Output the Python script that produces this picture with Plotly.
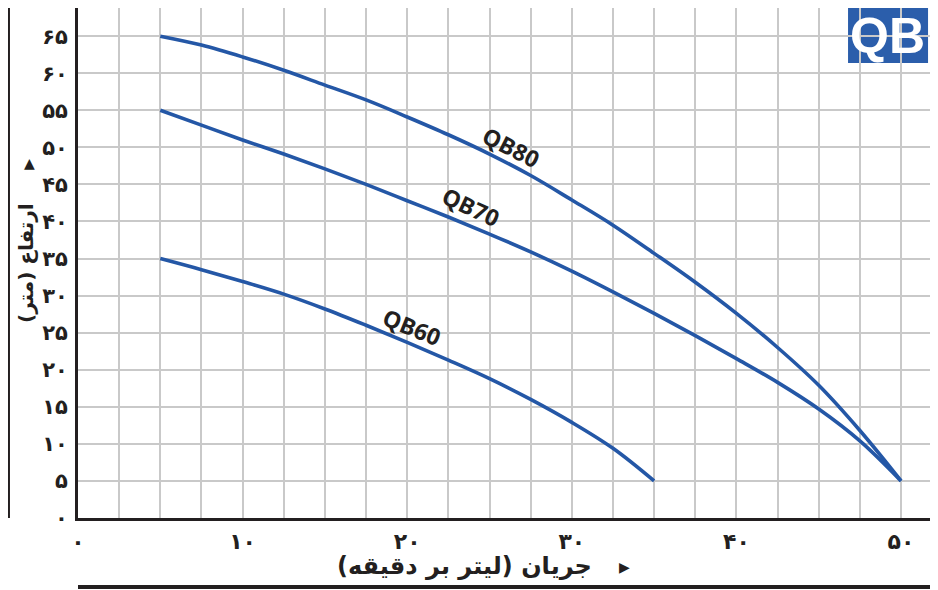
import plotly.graph_objects as go

# flow (litres per minute) sampled every 2.5
flow_80 = [5, 7.5, 10, 12.5, 15, 17.5, 20, 22.5, 25, 27.5, 30, 32.5, 35, 37.5, 40, 42.5, 45, 47.5, 50]
head_80 = [65, 63.8, 62.2, 60.4, 58.4, 56.4, 54.1, 51.7, 49.1, 46.2, 42.9, 39.5, 35.7, 31.8, 27.6, 23.0, 17.9, 11.8, 5]

flow_70 = [5, 7.5, 10, 12.5, 15, 17.5, 20, 22.5, 25, 27.5, 30, 32.5, 35, 37.5, 40, 42.5, 45, 47.5, 50]
head_70 = [55, 53.0, 51.0, 49.1, 47.1, 45.0, 42.8, 40.6, 38.3, 35.9, 33.3, 30.5, 27.6, 24.6, 21.5, 18.3, 14.7, 10.4, 5]

flow_60 = [5, 7.5, 10, 12.5, 15, 17.5, 20, 22.5, 25, 27.5, 30, 32.5, 35]
head_60 = [35, 33.5, 31.9, 30.2, 28.2, 26.0, 23.7, 21.3, 18.8, 16.0, 12.9, 9.4, 5]

series = [("QB80", flow_80, head_80), ("QB70", flow_70, head_70), ("QB60", flow_60, head_60)]

# curve name labels: (x, y, angle)
label_pos = {"QB80": (26.3, 50.0, 27), "QB70": (23.9, 42.0, 25), "QB60": (20.3, 25.8, 22)}

fa_digits = str.maketrans("0123456789", "۰۱۲۳۴۵۶۷۸۹")

x_vals = [i * 2.5 for i in range(21)]
x_text = [str(int(v)).translate(fa_digits) if v % 10 == 0 else "" for v in x_vals]
y_vals = list(range(0, 70, 5))
y_text = [str(v).translate(fa_digits) for v in y_vals]

BLUE = "#2457a6"
INK = "#231f20"
FONT = "DejaVu Sans, sans-serif"

fig = go.Figure()
for name, xs, ys in series:
    fig.add_trace(go.Scatter(x=xs, y=ys, mode="lines", name=name,
                             line=dict(color=BLUE, width=3.6, shape="spline", smoothing=1.0)))
    lx, ly, ang = label_pos[name]
    fig.add_annotation(x=lx, y=ly, text="<b>%s</b>" % name, showarrow=False, textangle=ang,
                       font=dict(family="Open Sans, sans-serif", size=23, color=INK))

fig.update_xaxes(range=[0, 51.76], tickvals=x_vals, ticktext=x_text, showgrid=True, automargin=False,
                 gridcolor="#c9c9c9", gridwidth=1.5, showline=True, linecolor=INK, linewidth=3,
                 mirror=True, zeroline=False, ticks="", ticklabelstandoff=2,
                 tickfont=dict(family=FONT, size=22, color=INK, weight="bold"))
fig.update_yaxes(range=[0, 68.8], tickvals=y_vals, ticktext=y_text, showgrid=True, automargin=False,
                 gridcolor="#c9c9c9", gridwidth=1.5, showline=True, linecolor=INK, linewidth=3,
                 mirror=True, zeroline=False, ticks="", ticklabelstandoff=3,
                 tickfont=dict(family=FONT, size=21, color=INK, weight="bold"))

# axis titles with arrows
fig.add_annotation(xref="paper", yref="paper", x=-0.0775, y=0.50, xanchor="left",
                   text="<b>ارتفاع (متر)</b>", textangle=-90, showarrow=False,
                   font=dict(family=FONT, size=20, color=INK))
fig.add_annotation(xref="paper", yref="paper", x=-0.066, y=0.715, text="▲", showarrow=False,
                   font=dict(family=FONT, size=14, color=INK))
fig.add_annotation(xref="paper", yref="paper", x=0.454, y=-0.126, text="<b>جریان (لیتر بر دقیقه)</b>",
                   showarrow=False, font=dict(family=FONT, size=24, color=INK))
fig.add_annotation(xref="paper", yref="paper", x=0.642, y=-0.116, text="▶", showarrow=False,
                   font=dict(family=FONT, size=14, color=INK))

# frame bars outside the plot
fig.add_shape(type="line", xref="paper", yref="paper", x0=-0.0822, x1=-0.0822, y0=0, y1=1.0,
              line=dict(color=INK, width=4))
fig.add_shape(type="line", xref="paper", yref="paper", x0=0, x1=1, y0=-0.1353, y1=-0.1353,
              line=dict(color=INK, width=4))

# QB badge
fig.add_shape(type="rect", xref="paper", yref="paper", x0=0.9038, x1=0.9977, y0=0.892, y1=1,
              fillcolor="#2b5eab", line=dict(width=0), layer="below")
fig.add_annotation(xref="paper", yref="paper", x=0.9507, y=0.946, xanchor="center", yanchor="middle",
                   text="<b>QB</b>", showarrow=False,
                   font=dict(family="Liberation Sans, Arial, sans-serif", size=50, color="white"))

# page body keeps an 8px margin, so the figure is 8px smaller and shifted margins
fig.update_layout(width=930, height=582, margin=dict(l=70, r=8, t=0, b=72),
                  plot_bgcolor="rgba(0,0,0,0)", paper_bgcolor="white", showlegend=False)

fig.write_html("out.html")
